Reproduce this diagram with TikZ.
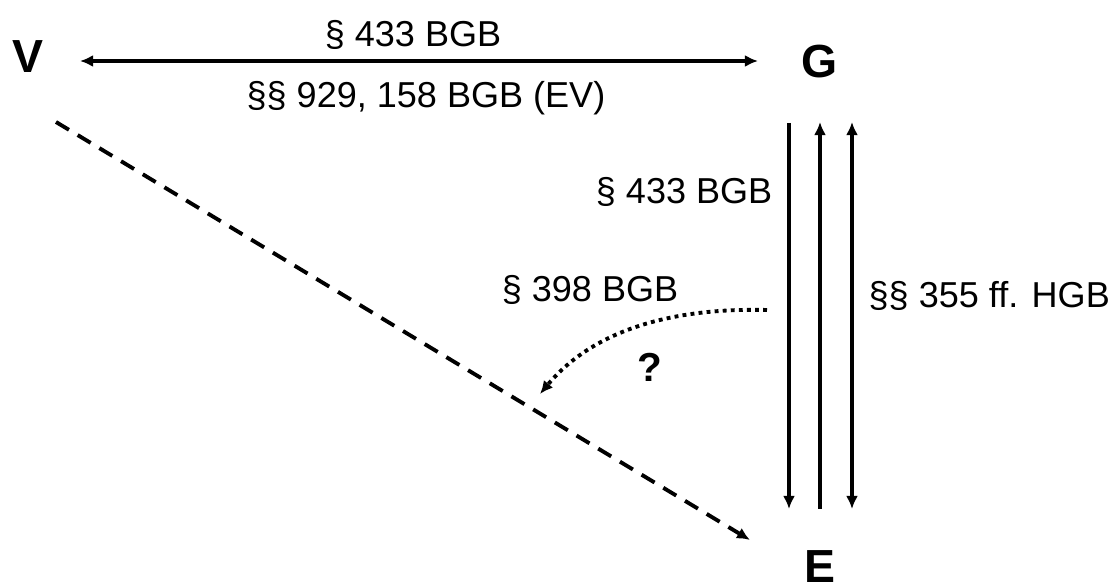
\documentclass[tikz,border=0pt]{standalone}
\usepackage{fontspec}
\setmainfont{Liberation Sans}
\usetikzlibrary{arrows.meta}
\begin{document}
\begin{tikzpicture}[x=0.01cm,y=-0.01cm,
  lbl/.style={font=\fontsize{10.25}{12}\selectfont, inner sep=0pt},
  party/.style={font=\fontsize{13.2}{15}\selectfont\bfseries, inner sep=0pt},
  conn/.style={line width=1.1pt, >={Latex[length=3.7pt,width=3.4pt]}}]
\useasboundingbox (0,0) rectangle (1117,585);
% parties
\node[party] (V) at (28,57) {V};
\node[party] (G) at (820,62) {G};
\node[party] (E) at (820,567) {E};
% anchor points
\coordinate (vg1) at (80,61);
\coordinate (vg2) at (758,61);
\coordinate (g1) at (789,123);
\coordinate (e1) at (789,509);
\coordinate (g2) at (820,122);
\coordinate (e2) at (820,509);
\coordinate (g3) at (852,122);
\coordinate (e3) at (852,509);
\coordinate (d1) at (56,122);
\coordinate (d2) at (750,540);
\coordinate (q1) at (767,310);
\coordinate (q2) at (540,394);
% connectors
\draw[conn,<->] (vg1) -- (vg2);
\draw[conn,->] (g1) -- (e1);
\draw[conn,->] (e2) -- (g2);
\draw[conn,<->] (g3) -- (e3);
\draw[conn,->,dash pattern=on 4.3pt off 2.9pt] (d1) -- (d2);
\draw[conn,->,dash pattern=on 1.1pt off 1.2pt] (q1) .. controls (690,308) and (600,322) .. (q2);
% labels
\node[lbl] (l1) at (413,35) {§ 433 BGB};
\node[lbl] (l2) at (426,98) {§§ 929, 158 BGB (EV)};
\node[lbl,anchor=east] (l3) at (773,192) {§ 433 BGB};
\node[lbl,anchor=west] (l4) at (868,296) {§§ 355 ff. HGB};
\node[lbl] (l5) at (590,290) {§ 398 BGB};
\node[font=\fontsize{11.5}{13}\selectfont\bfseries, inner sep=0pt] (q) at (650,367) {?};
\end{tikzpicture}
\end{document}
